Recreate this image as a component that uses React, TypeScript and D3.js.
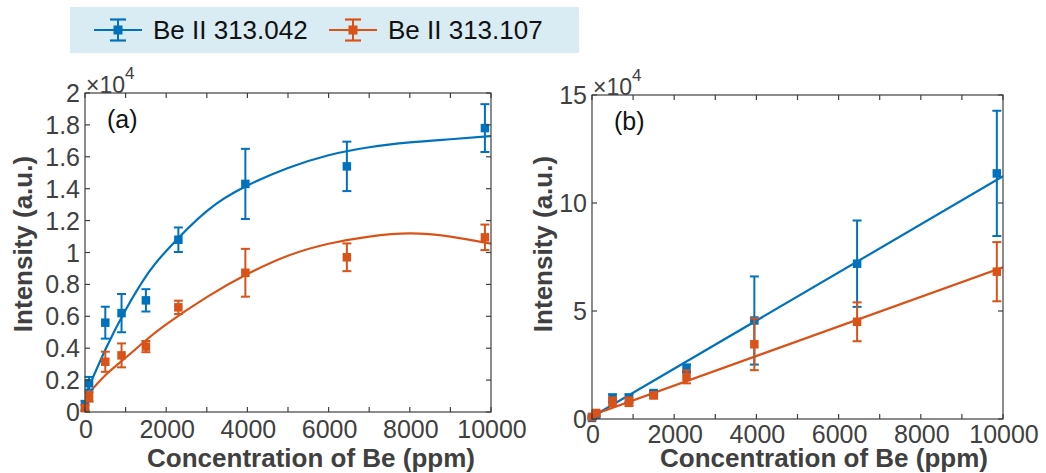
import React from 'react';
import * as d3 from 'd3';

// ---------- data (intensities in units of 1e4) ----------
const concentrations = [0, 100, 500, 900, 1500, 2300, 3950, 6450, 9850];

const blueA = [0.04, 0.18, 0.56, 0.62, 0.70, 1.08, 1.43, 1.54, 1.78];
const blueAErr = [0.03, 0.04, 0.10, 0.12, 0.07, 0.077, 0.22, 0.155, 0.15];
const orangeA = [0.025, 0.095, 0.315, 0.355, 0.41, 0.656, 0.873, 0.97, 1.095];
const orangeAErr = [0.02, 0.03, 0.063, 0.075, 0.035, 0.042, 0.15, 0.087, 0.08];

const fitAX = [0, 500, 1000, 1500, 2000, 3000, 4000, 5000, 6000, 7000, 8000, 9000, 10000];
const blueFitA = [0.10, 0.39, 0.64, 0.85, 1.01, 1.26, 1.42, 1.53, 1.61, 1.66, 1.69, 1.71, 1.73];
const orangeFitA = [0.09, 0.23, 0.34, 0.45, 0.55, 0.72, 0.865, 0.98, 1.055, 1.10, 1.12, 1.10, 1.055];

const blueB = [0.05, 0.2, 0.95, 0.95, 1.2, 2.35, 4.56, 7.19, 11.37];
const blueBErr = [0.05, 0.1, 0.2, 0.2, 0.1, 0.18, 2.04, 2.0, 2.9];
const orangeB = [0.1, 0.28, 0.8, 0.8, 1.1, 1.95, 3.46, 4.5, 6.82];
const orangeBErr = [0.05, 0.1, 0.2, 0.2, 0.15, 0.3, 1.2, 0.9, 1.37];

const fitBX = [0, 10000];
const blueFitB = [0.1, 11.24];
const orangeFitB = [0.18, 7.02];

const xTicks = [0, 1000, 2000, 3000, 4000, 5000, 6000, 7000, 8000, 9000, 10000];
const xTickLabels = [0, 2000, 4000, 6000, 8000, 10000];
const yTicksA = [0, 0.2, 0.4, 0.6, 0.8, 1, 1.2, 1.4, 1.6, 1.8, 2];
const yTicksB = [0, 5, 10, 15];

const seriesNames = ['Be II 313.042', 'Be II 313.107'];

// ---------- styles ----------
const BLUE = '#0072BD';
const ORANGE = '#D95319';
const AXIS = '#404040';
const TXT = '#404040';
const FONT = '"Liberation Sans", Arial, Helvetica, sans-serif';

type Series = { y: number[]; err: number[]; color: string };
type Fit = { x: number[]; y: number[]; color: string; curved: boolean };

function Panel(props: {
  id: string;
  left: number; right: number; top: number; bottom: number;
  yMax: number; yTicks: number[];
  series: Series[]; fits: Fit[];
  tag: string;
  xLabelCx: number; yLabelCx: number; xTickDy: number;
}) {
  const { id, left, right, top, bottom, yMax, yTicks, series, fits, tag, xLabelCx, yLabelCx, xTickDy } = props;
  const x = d3.scaleLinear().domain([0, 10000]).range([left, right]);
  const y = d3.scaleLinear().domain([0, yMax]).range([bottom, top]);
  const tl = 5;
  const cap = 4.5;
  const sq = 8.5;
  return (
    <g>
      <defs>
        <clipPath id={`clip-${id}`}>
          <rect x={left} y={top} width={right - left} height={bottom - top} />
        </clipPath>
      </defs>
      <g clipPath={`url(#clip-${id})`}>
        {fits.map((f, i) => {
          const pts = f.x.map((v, k) => [v, f.y[k]] as [number, number]);
          const line = d3.line<[number, number]>()
            .x(d => x(d[0]))
            .y(d => y(d[1]))
            .curve(f.curved ? d3.curveNatural : d3.curveLinear);
          return <path key={i} d={line(pts) || ''} fill="none" stroke={f.color} strokeWidth={2.2} />;
        })}
      </g>
      {series.map((s, i) => (
        <g key={i}>
          {concentrations.map((c, k) => {
            const cx = x(c);
            const yt = y(s.y[k] + s.err[k]);
            const yb = y(s.y[k] - s.err[k]);
            return (
              <g key={k}>
                <line x1={cx} x2={cx} y1={yt} y2={yb} stroke={s.color} strokeWidth={2} />
                <line x1={cx - cap} x2={cx + cap} y1={yt} y2={yt} stroke={s.color} strokeWidth={2} />
                <line x1={cx - cap} x2={cx + cap} y1={yb} y2={yb} stroke={s.color} strokeWidth={2} />
                <rect x={cx - sq / 2} y={y(s.y[k]) - sq / 2} width={sq} height={sq} fill={s.color} />
              </g>
            );
          })}
        </g>
      ))}
      <rect x={left} y={top} width={right - left} height={bottom - top} fill="none" stroke={AXIS} strokeWidth={1.2} />
      {xTicks.map((t, i) => (
        <g key={'xt' + i}>
          <line x1={x(t)} x2={x(t)} y1={bottom} y2={bottom - tl} stroke={AXIS} strokeWidth={1.2} />
          <line x1={x(t)} x2={x(t)} y1={top} y2={top + tl} stroke={AXIS} strokeWidth={1.2} />
        </g>
      ))}
      {yTicks.map((t, i) => (
        <g key={'yt' + i}>
          <line x1={left} x2={left + tl} y1={y(t)} y2={y(t)} stroke={AXIS} strokeWidth={1.2} />
          <line x1={right} x2={right - tl} y1={y(t)} y2={y(t)} stroke={AXIS} strokeWidth={1.2} />
          <text x={left - 5} y={y(t)} dy="0.36em" textAnchor="end" fontSize={25} fill={TXT} fontFamily={FONT}>
            {String(t)}
          </text>
        </g>
      ))}
      {xTickLabels.map((t, i) => (
        <text key={'xl' + i} x={x(t) + 1} y={bottom + xTickDy} textAnchor="middle" fontSize={25} fill={TXT} fontFamily={FONT}>
          {String(t)}
        </text>
      ))}
      <text x={left + 1} y={top} fontSize={23} fill={TXT} fontFamily={FONT}>
        ×10
        <tspan fontSize={17} dy={-14}>4</tspan>
      </text>
      <text x={left + 22} y={top + 35} fontSize={25} fill="#111" fontFamily={FONT}>{tag}</text>
      <text x={xLabelCx} y={467} textAnchor="middle" fontSize={26} fontWeight="bold" fill={TXT} fontFamily={FONT}>
        Concentration of Be (ppm)
      </text>
      <text transform={`translate(${yLabelCx},244) rotate(-90)`} dy="0.36em" textAnchor="middle" fontSize={26} fontWeight="bold" fill={TXT} fontFamily={FONT}>
        Intensity (a.u.)
      </text>
    </g>
  );
}

function LegendItem({ x0, color, label }: { x0: number; color: string; label: string }) {
  const cy = 30;
  const mx = x0 + 24;
  return (
    <g>
      <line x1={x0} x2={x0 + 48} y1={cy} y2={cy} stroke={color} strokeWidth={2.2} />
      <line x1={mx} x2={mx} y1={cy - 10.5} y2={cy + 10.5} stroke={color} strokeWidth={2} />
      <line x1={mx - 8} x2={mx + 8} y1={cy - 10.5} y2={cy - 10.5} stroke={color} strokeWidth={2.2} />
      <line x1={mx - 8} x2={mx + 8} y1={cy + 10.5} y2={cy + 10.5} stroke={color} strokeWidth={2.2} />
      <rect x={mx - 4.5} y={cy - 4.5} width={9} height={9} fill={color} />
      <text x={x0 + 59} y={cy} dy="0.36em" fontSize={26} fill="#111" fontFamily={FONT}>{label}</text>
    </g>
  );
}

export default function App() {
  return (
    <svg width={1046} height={473} style={{ position: 'absolute', left: 0, top: 0, display: 'block', background: '#fff' }}>
      <rect x={0} y={0} width={1046} height={473} fill="#fff" />
      <rect x={70} y={7} width={509} height={46} fill="#d9ebf3" />
      <LegendItem x0={94} color={BLUE} label={seriesNames[0]} />
      <LegendItem x0={329} color={ORANGE} label={seriesNames[1]} />
      <Panel
        id="a" left={85} right={491} top={93} bottom={412}
        yMax={2} yTicks={yTicksA}
        series={[
          { y: blueA, err: blueAErr, color: BLUE },
          { y: orangeA, err: orangeAErr, color: ORANGE },
        ]}
        fits={[
          { x: fitAX, y: blueFitA, color: BLUE, curved: true },
          { x: fitAX, y: orangeFitA, color: ORANGE, curved: true },
        ]}
        tag="(a)" xLabelCx={311} yLabelCx={23} xTickDy={26}
      />
      <Panel
        id="b" left={592} right={1003} top={95} bottom={419}
        yMax={15} yTicks={yTicksB}
        series={[
          { y: blueB, err: blueBErr, color: BLUE },
          { y: orangeB, err: orangeBErr, color: ORANGE },
        ]}
        fits={[
          { x: fitBX, y: blueFitB, color: BLUE, curved: false },
          { x: fitBX, y: orangeFitB, color: ORANGE, curved: false },
        ]}
        tag="(b)" xLabelCx={824} yLabelCx={543} xTickDy={24}
      />
    </svg>
  );
}
